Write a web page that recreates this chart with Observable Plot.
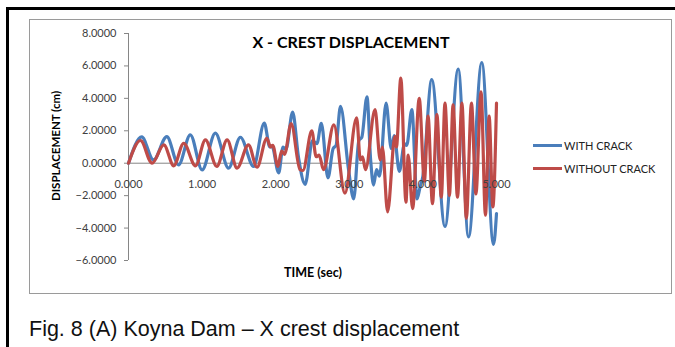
<!DOCTYPE html>
<html>
<head>
<meta charset="utf-8">
<script src="https://cdn.jsdelivr.net/npm/d3@7"></script>
<script src="https://cdn.jsdelivr.net/npm/@observablehq/plot@0.6"></script>
<style>
  html, body { margin: 0; padding: 0; background: #fff; width: 675px; height: 347px; overflow: hidden; }
  #page { position: relative; width: 675px; height: 347px; font-family: Lato, "Open Sans", sans-serif; }
  #frame { position: absolute; left: 6px; top: 7px; width: 700px; height: 400px; border: 3px solid #000; box-sizing: border-box; }
  #box { position: absolute; left: 29px; top: 19px; width: 643px; height: 275px; border: 1px solid #9a9a9a; box-sizing: border-box; }
  #chart { position: absolute; left: 0; top: 0; }
  .t { position: absolute; white-space: nowrap; color: #000; }
  #title { left: 351px; top: 41px; transform: translate(-50%, -50%); font-weight: bold; font-size: 16px; }
  #ylab { left: 55px; top: 146px; transform: translate(-50%, -50%) rotate(-90deg); font-weight: bold; font-size: 11.5px; }
  #xlab { left: 313px; top: 272px; transform: translate(-50%, -50%); font-weight: bold; font-size: 12.5px; }
  .leg { position: absolute; left: 533px; height: 3px; width: 29px; }
  .legt { left: 564px; font-size: 11px; color: #222; transform: translateY(-50%); }
  #caption { left: 29px; top: 329px; font-family: "Liberation Sans", Arial, sans-serif; font-size: 21.5px; color: #111; transform: translateY(-50%); }
</style>
</head>
<body>
<div id="page">
  <div id="frame"></div>
  <div id="box"></div>
  <div id="chart"></div>
  <div class="t" id="title">X - CREST DISPLACEMENT</div>
  <div class="t" id="ylab">DISPLACEMENT (cm)</div>
  <div class="t" id="xlab">TIME (sec)</div>
  <div id="legend"></div>
  <div class="t" id="caption">Fig. 8 (A) Koyna Dam – X crest displacement</div>
</div>
<script>
// ---- data ----
const seriesNames = ["WITH CRACK", "WITHOUT CRACK"];
const seriesColors = ["#4A7EBB", "#BE4B48"];

const withCrackT = [0.00, 0.18, 0.34, 0.52, 0.68, 0.84, 1.00, 1.18, 1.36, 1.52, 1.70, 1.845, 1.92, 1.95, 2.04, 2.10, 2.14, 2.23, 2.31, 2.40, 2.50, 2.56, 2.62, 2.71, 2.78, 2.82, 2.88, 2.99, 3.06, 3.13, 3.17, 3.24, 3.29, 3.33, 3.37, 3.41, 3.50, 3.57, 3.61, 3.68, 3.75, 3.78, 3.85, 3.92, 3.96, 4.00, 4.12, 4.30, 4.48, 4.62, 4.80, 4.96, 5.00];
const withCrackV = [0.00, 1.62, 0.20, 1.64, -0.10, 1.75, -0.41, 1.85, -0.30, 1.60, -0.20, 2.47, 1.00, 1.05, -0.60, 1.00, 0.85, 3.15, 0.35, -1.30, 1.40, 1.20, 2.46, -0.90, 0.90, 1.10, 3.50, -0.40, -2.20, 1.40, 1.60, 4.10, 0.20, -1.35, -0.40, -0.80, 3.70, 0.90, 1.70, -0.50, 1.20, 1.10, 3.30, -2.20, -1.50, -0.80, 5.15, -3.90, 5.80, -4.55, 6.20, -5.00, -3.10];

const withoutCrackT = [0.00, 0.163, 0.32, 0.48, 0.615, 0.75, 0.91, 1.045, 1.20, 1.34, 1.475, 1.63, 1.746, 1.88, 1.93, 1.96, 2.03, 2.08, 2.12, 2.21, 2.33, 2.37, 2.49, 2.55, 2.59, 2.65, 2.79, 2.94, 3.10, 3.15, 3.18, 3.22, 3.35, 3.42, 3.45, 3.52, 3.62, 3.64, 3.70, 3.77, 3.80, 3.86, 3.95, 4.02, 4.07, 4.13, 4.19, 4.25, 4.30, 4.36, 4.41, 4.47, 4.53, 4.59, 4.66, 4.72, 4.79, 4.85, 4.90, 4.95, 5.00];
const withoutCrackV = [0.00, 1.40, 0.00, 1.13, -0.16, 1.23, -0.16, 1.44, -0.20, 1.44, -0.30, 1.13, -0.25, 1.54, 1.00, 1.10, -0.20, 0.75, 0.55, 2.45, -0.40, -0.45, 2.00, 0.40, 0.50, -0.40, 2.37, -1.85, 2.80, 0.20, 0.40, -0.40, 3.30, 0.20, 1.00, -3.00, 1.65, 1.00, 5.25, -2.40, 0.50, -2.80, 4.00, -1.10, 2.90, -2.50, 3.00, -2.10, 3.70, -2.00, 3.60, -2.10, 3.70, -3.40, 3.70, -1.90, 4.40, -3.20, 2.90, -2.70, 3.70];

const yTicks = [-6, -4, -2, 0, 2, 4, 6, 8];
const xTicks = [0, 1, 2, 3, 4, 5];

// ---- build tables ----
const withCrack = withCrackT.map((t, i) => ({t, v: withCrackV[i]}));
const withoutCrack = withoutCrackT.map((t, i) => ({t, v: withoutCrackV[i]}));

const W = 675, H = 300;
const chart = Plot.plot({
  width: W,
  height: H,
  marginLeft: 128,
  marginRight: 179,
  marginTop: 33,
  marginBottom: 40,
  style: {fontFamily: "Lato, 'Open Sans', sans-serif", fontSize: "11px", background: "transparent", overflow: "visible"},
  x: {domain: [0, 5], axis: null},
  y: {domain: [-6, 8], axis: null},
  marks: [
    Plot.ruleX([0], {y1: -6, y2: 8, stroke: "#868686", strokeWidth: 1}),
    Plot.ruleY([0], {x1: 0, x2: 5, stroke: "#868686", strokeWidth: 1}),
    Plot.axisY(yTicks, {tickFormat: d3.format(".4f"), tickSize: 4, tickPadding: 8, stroke: "#868686", fill: "#404040", label: null, fontSize: 11}),
    Plot.line(withCrack, {x: "t", y: "v", stroke: seriesColors[0], strokeWidth: 3.2, curve: "monotone-x"}),
    Plot.line(withoutCrack, {x: "t", y: "v", stroke: seriesColors[1], strokeWidth: 3.2, curve: "monotone-x"}),
    Plot.text(xTicks, {x: d => d, y: d => 0, text: d => d3.format(".3f")(d), dy: 21, fill: "#404040", fontSize: 11})
  ]
});
document.getElementById("chart").appendChild(chart);

// legend
const legend = document.getElementById("legend");
const legY = [145, 168];
seriesNames.forEach((name, i) => {
  const line = document.createElement("div");
  line.className = "leg";
  line.style.top = (legY[i] - 1.5) + "px";
  line.style.background = seriesColors[i];
  legend.appendChild(line);
  const txt = document.createElement("div");
  txt.className = "t legt";
  txt.style.top = legY[i] + "px";
  txt.textContent = name;
  legend.appendChild(txt);
});
</script>
</body>
</html>
